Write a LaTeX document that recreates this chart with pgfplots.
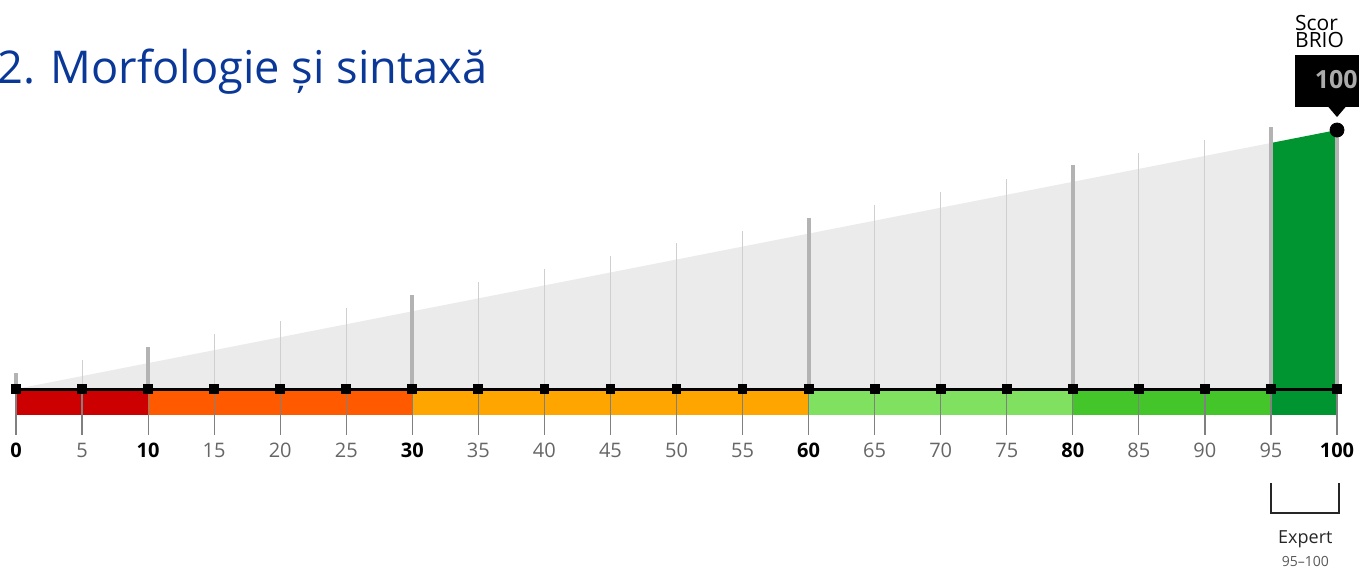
\documentclass[border=0pt]{standalone}
\usepackage{fontspec}
\setmainfont{Open Sans}
\usepackage{pgfplots}
\pgfplotsset{compat=1.18}

\definecolor{wedge}{HTML}{EBEBEB}
\definecolor{thickln}{HTML}{B3B3B3}
\definecolor{thinln}{HTML}{CFCFCF}
\definecolor{tickln}{HTML}{808080}
\definecolor{bandA}{HTML}{CC0000}
\definecolor{bandB}{HTML}{FF5A00}
\definecolor{bandC}{HTML}{FFA500}
\definecolor{bandD}{HTML}{80E060}
\definecolor{bandE}{HTML}{44C62B}
\definecolor{bandF}{HTML}{009530}
\definecolor{titleblue}{RGB}{10,56,152}
\definecolor{lbl}{HTML}{666666}

\begin{document}
\begin{tikzpicture}
\useasboundingbox (0,0) rectangle (679.5pt,285pt);
\clip (0,0) rectangle (679.5pt,285pt);
\begin{axis}[
    at={(0,0)}, anchor=south west,
    x=6.605pt, y=1.295pt,
    xmin=-1.2112, xmax=101.665,
    ymin=-69.884, ymax=150.193,
    hide axis,
    clip=false,
]
% grey wedge and green score area
\addplot[fill=wedge, draw=none] coordinates {(0,0) (95,95) (95,0)} -- cycle;
\addplot[fill=bandF, draw=none] coordinates {(95,-10) (95,95) (100,100) (100,-10)} -- cycle;

% thin guide lines
\addplot[ycomb, draw=thinln, line width=0.55pt, mark=none] coordinates {
    (5,11.2) (15,21.2) (20,26.2) (25,31.2) (35,41.2) (40,46.2) (45,51.2)
    (50,56.2) (55,61.2) (65,71.2) (70,76.2) (75,81.2) (85,91.2) (90,96.2)
};
% thick guide lines at level limits
\addplot[ycomb, draw=thickln, line width=2pt, mark=none] coordinates {
    (0,6.2) (10,16.2) (30,36.2) (60,66.2) (80,86.6) (95,101.3) (100,100)
};

% level band
\addplot[fill=bandA, draw=none] coordinates {(0,-10) (10,-10)} \closedcycle;
\addplot[fill=bandB, draw=none] coordinates {(10,-10) (30,-10)} \closedcycle;
\addplot[fill=bandC, draw=none] coordinates {(30,-10) (60,-10)} \closedcycle;
\addplot[fill=bandD, draw=none] coordinates {(60,-10) (80,-10)} \closedcycle;
\addplot[fill=bandE, draw=none] coordinates {(80,-10) (95,-10)} \closedcycle;

% ticks below the scale
\addplot[ycomb, draw=tickln, line width=0.6pt, mark=none] coordinates {
    (0,-17.8) (5,-17.8) (10,-17.8) (15,-17.8) (20,-17.8) (25,-17.8) (30,-17.8)
    (35,-17.8) (40,-17.8) (45,-17.8) (50,-17.8) (55,-17.8) (60,-17.8) (65,-17.8)
    (70,-17.8) (75,-17.8) (80,-17.8) (85,-17.8) (90,-17.8) (95,-17.8) (100,-17.8)
};

% base line with square marks
\addplot[black, line width=1.5pt, mark=square*, mark size=1.7pt] coordinates {
    (0,0) (5,0) (10,0) (15,0) (20,0) (25,0) (30,0) (35,0) (40,0) (45,0) (50,0)
    (55,0) (60,0) (65,0) (70,0) (75,0) (80,0) (85,0) (90,0) (95,0) (100,0)
};

% score marker
\fill[black] (axis cs:96.8,108.9) rectangle (axis cs:103.7,129.0);
\fill[black] (axis cs:99.25,109.5) -- (axis cs:100,105) -- (axis cs:100.75,109.5) -- cycle;
\addplot[only marks, mark=*, mark size=3.5pt, black] coordinates {(100,100)};
\node[anchor=base east, inner sep=0pt, text=black!33, font=\fontsize{12.5pt}{14pt}\selectfont\bfseries]
    at (axis cs:101.6,116.2) {100};
\node[anchor=base west, inner sep=0pt, font=\fontsize{10.5pt}{12pt}\selectfont] at (axis cs:96.8,138.3) {Scor};
\node[anchor=base west, inner sep=0pt, font=\fontsize{10.5pt}{12pt}\selectfont] at (axis cs:96.8,131.8) {BRIO};

% tick labels
\pgfplotsinvokeforeach{0,10,30,60,80,100}{
    \node[anchor=base, inner sep=0pt, font=\fontsize{10pt}{12pt}\selectfont\bfseries] at (axis cs:#1,-26.3) {#1};
}
\pgfplotsinvokeforeach{5,15,20,25,35,40,45,50,55,65,70,75,85,90,95}{
    \node[anchor=base, inner sep=0pt, text=lbl, font=\fontsize{10pt}{12pt}\selectfont] at (axis cs:#1,-26.3) {#1};
}

% level bracket
\draw[black!85, line width=1pt] (axis cs:95,-36.3) -- (axis cs:95,-47.9) -- (axis cs:100.15,-47.9) -- (axis cs:100.15,-36.3);
\node[anchor=base, inner sep=0pt, font=\fontsize{9pt}{11pt}\selectfont, text=black!85] at (axis cs:97.6,-59.5) {Expert};
\node[anchor=base, inner sep=0pt, font=\fontsize{7pt}{9pt}\selectfont, text=black!65] at (axis cs:97.6,-68.7) {95–100};

% title
\node[anchor=base west, inner sep=0pt, text=titleblue, font=\fontsize{22.6pt}{26pt}\selectfont] at (axis cs:-1.45,118.1) {2. Morfologie și sintaxă};
\end{axis}
\end{tikzpicture}
\end{document}
